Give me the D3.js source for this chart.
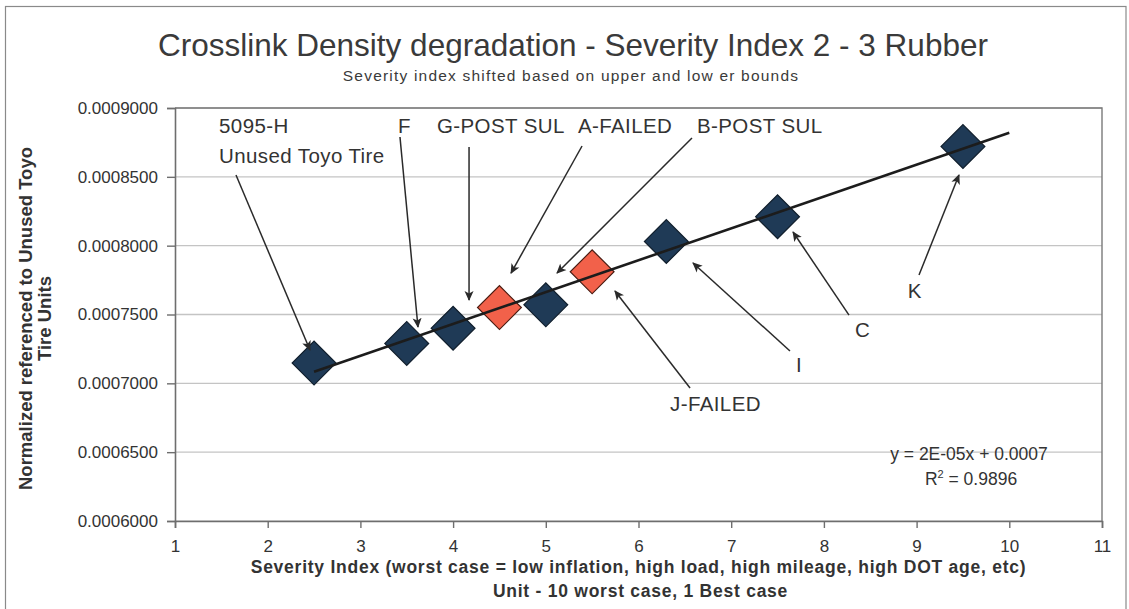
<!DOCTYPE html>
<html>
<head>
<meta charset="utf-8">
<script src="https://cdn.jsdelivr.net/npm/d3@7/dist/d3.min.js"></script>
<style>
  html, body { margin: 0; padding: 0; background: #fff; }
  svg { display: block; font-family: "Liberation Sans", Arial, sans-serif; }
</style>
</head>
<body>
<svg id="chart" width="1129" height="609"></svg>
<script>
// Tire samples: severity index vs normalized crosslink density
const sampleNames = ["5095-H", "F", "G-POST SUL", "A-FAILED", "B-POST SUL", "J-FAILED", "I", "C", "K"];
const severity    = [2.5, 3.5, 4.0, 4.5, 5.0, 5.5, 6.3, 7.5, 9.5];
const density     = [0.0007147, 0.000729, 0.000740, 0.000755, 0.000757, 0.000781, 0.000803, 0.000821, 0.000872];
const failed      = [false, false, false, true, false, true, false, false, false];

// Axis ticks
const xTicks = [1, 2, 3, 4, 5, 6, 7, 8, 9, 10, 11];
const yTicks = [0.0006, 0.00065, 0.0007, 0.00075, 0.0008, 0.00085, 0.0009];

// Trendline extends forward to this severity
const trendEnd = 10;

// Callouts: label text lines, label anchor and arrow tail/tip (data units)
const callouts = [
  { name: "5095-H",     lines: ["5095-H", "Unused Toyo Tire"], at: [1.475, 0.0008818], tail: [1.658, 0.0008513], tip: [2.456, 0.0007242] },
  { name: "F",          lines: ["F"],          at: [3.405, 0.0008818], tail: [3.427, 0.0008789], tip: [3.621, 0.0007409] },
  { name: "G-POST SUL", lines: ["G-POST SUL"], at: [3.826, 0.0008818], tail: [4.172, 0.0008717], tip: [4.172, 0.0007605] },
  { name: "A-FAILED",   lines: ["A-FAILED"],   at: [5.347, 0.0008818], tail: [5.391, 0.0008724], tip: [4.625, 0.0007801] },
  { name: "B-POST SUL", lines: ["B-POST SUL"], at: [6.631, 0.0008818], tail: [6.577, 0.0008782], tip: [5.121, 0.0007801] },
  { name: "J-FAILED",   lines: ["J-FAILED"],   at: [6.340, 0.0006800], tail: [6.556, 0.0006966], tip: [5.746, 0.0007671] },
  { name: "I",          lines: ["I"],          at: [7.700, 0.0007080], tail: [7.634, 0.0007235], tip: [6.588, 0.0007874], boxed: true },
  { name: "C",          lines: ["C"],          at: [8.335, 0.0007337], tail: [8.271, 0.0007496], tip: [7.667, 0.0008099] },
  { name: "K",          lines: ["K"],          at: [8.904, 0.0007620], tail: [9.026, 0.0007787], tip: [9.457, 0.0008513] }
];

const W = 1129, H = 609;
const margin = { top: 108, right: 27, bottom: 88, left: 175 };

const svg = d3.select("#chart");

const x = d3.scaleLinear().domain([1, 11]).range([margin.left, W - margin.right]);
const y = d3.scaleLinear().domain([0.0006, 0.0009]).range([H - margin.bottom, margin.top]);

// Outer chart frame
svg.append("rect")
  .attr("x", 5.5).attr("y", 6.5)
  .attr("width", W - 3 - 5.5).attr("height", H + 20)
  .attr("fill", "#fff").attr("stroke", "#8a8a8a").attr("stroke-width", 1.2);

// Titles
svg.append("text")
  .attr("x", 573).attr("y", 56)
  .attr("text-anchor", "middle")
  .attr("font-size", 31.5).attr("fill", "#3a3a3a")
  .text("Crosslink Density degradation - Severity Index 2 - 3 Rubber");

svg.append("text")
  .attr("x", 571).attr("y", 81)
  .attr("text-anchor", "middle")
  .attr("font-size", 15.5).attr("letter-spacing", 1.2).attr("fill", "#3a3a3a")
  .text("Severity index shifted based on upper and low er bounds");

// Horizontal gridlines
svg.append("g")
  .selectAll("line")
  .data(yTicks)
  .join("line")
  .attr("x1", x(1)).attr("x2", x(11))
  .attr("y1", d => y(d)).attr("y2", d => y(d))
  .attr("stroke", "#c4c4c4").attr("stroke-width", 1.4);

// Plot area border (top and right)
svg.append("path")
  .attr("d", `M${x(1)},${y(0.0009)}H${x(11)}V${y(0.0006)}`)
  .attr("fill", "none").attr("stroke", "#7a7a7a").attr("stroke-width", 1.4);

// Axes
const fmtY = d3.format(".7f");
const yAxis = svg.append("g")
  .attr("transform", `translate(${margin.left},0)`)
  .call(d3.axisLeft(y).tickValues(yTicks).tickFormat(fmtY).tickSize(8).tickPadding(9));
const xAxis = svg.append("g")
  .attr("transform", `translate(0,${H - margin.bottom})`)
  .call(d3.axisBottom(x).tickValues(xTicks).tickFormat(d3.format("d")).tickSize(7).tickPadding(12));

[yAxis, xAxis].forEach(g => {
  g.select(".domain").attr("stroke", "#6e6e6e").attr("stroke-width", 1.6);
  g.selectAll(".tick line").attr("stroke", "#6e6e6e").attr("stroke-width", 1.4);
  g.selectAll(".tick text")
    .attr("font-family", "'Liberation Sans', Arial, sans-serif")
    .attr("font-size", 17).attr("fill", "#333");
});

// Axis titles
const yTitle = svg.append("text")
  .attr("transform", `translate(32,${(y(0.0006) + y(0.0009)) / 2 + 4}) rotate(-90)`)
  .attr("text-anchor", "middle")
  .attr("font-size", 18.5).attr("font-weight", "bold").attr("fill", "#333");
yTitle.append("tspan").attr("x", 0).attr("dy", 0).text("Normalized referenced to Unused Toyo");
yTitle.append("tspan").attr("x", 0).attr("dy", 19).text("Tire Units");

const xMid = (x(1) + x(11)) / 2;
svg.append("text")
  .attr("x", xMid).attr("y", 573)
  .attr("text-anchor", "middle")
  .attr("font-size", 17.5).attr("font-weight", "bold").attr("letter-spacing", 0.75).attr("fill", "#333")
  .text("Severity Index (worst case = low inflation, high load, high mileage, high DOT age, etc)");
svg.append("text")
  .attr("x", xMid + 2).attr("y", 597)
  .attr("text-anchor", "middle")
  .attr("font-size", 17.5).attr("font-weight", "bold").attr("letter-spacing", 0.75).attr("fill", "#333")
  .text("Unit - 10 worst case, 1 Best case");

// Least-squares linear trendline
const n = severity.length;
const mx = d3.mean(severity), my = d3.mean(density);
let sxx = 0, sxy = 0, syy = 0;
for (let i = 0; i < n; i++) {
  const dx = severity[i] - mx, dy = density[i] - my;
  sxx += dx * dx; sxy += dx * dy; syy += dy * dy;
}
const slope = sxy / sxx;
const intercept = my - slope * mx;
const r2 = (sxy * sxy) / (sxx * syy);

const trendX = [d3.min(severity), trendEnd];
const trendLine = d3.line().x(d => x(d)).y(d => y(slope * d + intercept));

// Arrowhead for callouts
svg.append("defs").append("marker")
  .attr("id", "arrowhead")
  .attr("viewBox", "0 0 10 10")
  .attr("refX", 9).attr("refY", 5)
  .attr("markerWidth", 10).attr("markerHeight", 10)
  .attr("markerUnits", "userSpaceOnUse")
  .attr("orient", "auto")
  .append("path")
  .attr("d", "M0,0.5L10,5L0,9.5L2.5,5Z")
  .attr("fill", "#2a2a2a");

// Diamond markers
const pts = severity.map((s, i) => ({ s, d: density[i], failed: failed[i], name: sampleNames[i] }));
const diamond = d3.symbol().type(d3.symbolSquare).size(960);
svg.append("g")
  .selectAll("path")
  .data(pts)
  .join("path")
  .attr("transform", d => `translate(${x(d.s)},${y(d.d)}) rotate(45)`)
  .attr("d", diamond)
  .attr("fill", d => d.failed ? "#f2614a" : "#1f3a56")
  .attr("stroke", d => d.failed ? "#4a1c12" : "#101e2c")
  .attr("stroke-width", 1.2);

// Trendline drawn over the markers
svg.append("path")
  .datum(trendX)
  .attr("d", trendLine)
  .attr("fill", "none").attr("stroke", "#1c1c1c").attr("stroke-width", 2.6);

const cg = svg.append("g");
cg.selectAll("line")
  .data(callouts)
  .join("line")
  .attr("x1", d => x(d.tail[0])).attr("y1", d => y(d.tail[1]))
  .attr("x2", d => x(d.tip[0])).attr("y2", d => y(d.tip[1]))
  .attr("stroke", "#2a2a2a").attr("stroke-width", 1.5)
  .attr("marker-end", "url(#arrowhead)");

const labels = cg.selectAll("g.label")
  .data(callouts)
  .join("g").attr("class", "label");

labels.filter(d => d.boxed).append("rect")
  .attr("x", d => x(d.at[0]) - 10).attr("y", d => y(d.at[1]) - 18)
  .attr("width", 24).attr("height", 22)
  .attr("fill", "#fff");

labels.append("text")
  .attr("x", d => x(d.at[0])).attr("y", d => y(d.at[1]))
  .attr("font-size", 20.5).attr("letter-spacing", 0.4).attr("fill", "#333")
  .selectAll("tspan")
  .data(d => d.lines.map((t, i) => ({ t, i, x: x(d.at[0]) })))
  .join("tspan")
  .attr("x", d => d.x).attr("dy", d => d.i === 0 ? 0 : 30)
  .text(d => d.t);

// Regression equation, formatted the way a spreadsheet trendline label shows it
function sciLabel(v) {
  const e = Math.floor(Math.log10(Math.abs(v)));
  const m = Math.round(v / Math.pow(10, e));
  const sign = e < 0 ? "-" : "+";
  return `${m}E${sign}${String(Math.abs(e)).padStart(2, "0")}`;
}
const interceptLabel = d3.format(".1r")(intercept);
svg.append("text")
  .attr("x", 969).attr("y", 460)
  .attr("text-anchor", "middle")
  .attr("font-size", 17.5).attr("fill", "#333")
  .text(`y = ${sciLabel(slope)}x + ${interceptLabel}`);
const r2Text = svg.append("text")
  .attr("x", 971).attr("y", 485)
  .attr("text-anchor", "middle")
  .attr("font-size", 17.5).attr("fill", "#333");
r2Text.append("tspan").text("R");
r2Text.append("tspan").attr("font-size", 11).attr("dy", -7).text("2");
r2Text.append("tspan").attr("dy", 7).text(` = ${d3.format(".4f")(r2)}`);
</script>
</body>
</html>
